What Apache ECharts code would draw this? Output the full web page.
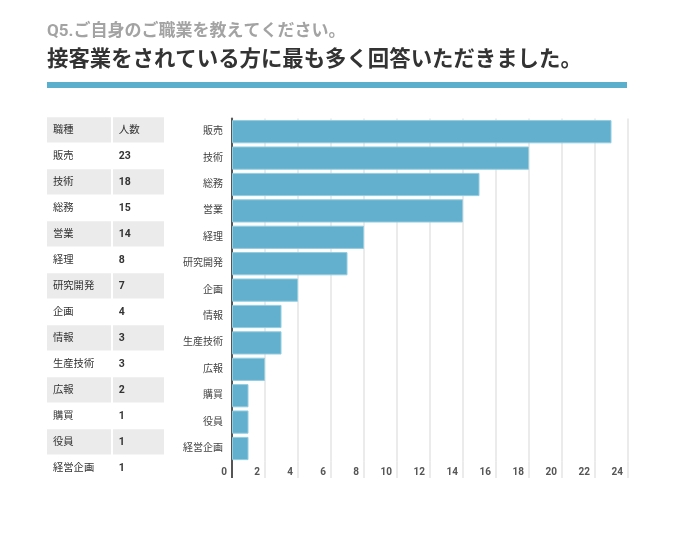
<!DOCTYPE html>
<html><head><meta charset="utf-8">
<script src="https://cdn.jsdelivr.net/npm/echarts@6/dist/echarts.min.js"></script>
<style>html,body{margin:0;padding:0;background:#fff}#c{width:674px;height:535px}</style>
</head><body><div id="c"></div>
<script>
const categories = ['販売','技術','総務','営業','経理','研究開発','企画','情報','生産技術','広報','購買','役員','経営企画'];
const values = [23,18,15,14,8,7,4,3,3,2,1,1,1];
const tableHeader = ['職種','人数'];
const titleText = 'Q5.ご自身のご職業を教えてください。';
const subtitleText = '接客業をされている方に最も多く回答いただきました。';
const xTicks = [0,2,4,6,8,10,12,14,16,18,20,22,24];

const FONT = "Roboto, 'Noto Sans CJK JP', sans-serif";
const W = 674, H = 535;
const gridTop = 118.5, gridBottom = 73.3, gridLeft = 232, gridRight = 46;
const rowH = 26, tableTop = 117.3;
const extendTo = 478;

const chart = echarts.init(document.getElementById('c'));

const els = [];
els.push({type:'text', x:47, y:31.5, style:{text:titleText, fontSize:17, fontWeight:'bold', fill:'#a3a3a3', fontFamily:FONT, verticalAlign:'middle'}});
els.push({type:'text', x:47, y:61, style:{text:subtitleText, fontSize:21.4, fontWeight:'bold', fill:'#333333', fontFamily:FONT, verticalAlign:'middle'}});
els.push({type:'rect', shape:{x:47, y:82, width:580, height:6}, style:{fill:'#5aafcc'}});

const rows = [tableHeader].concat(categories.map((c,i)=>[c, String(values[i])]));
rows.forEach((r,i)=>{
  const y = tableTop + i*rowH;
  if (i % 2 === 0) {
    els.push({type:'rect', shape:{x:47, y:y, width:64, height:rowH-0.8}, style:{fill:'#ebebeb'}});
    els.push({type:'rect', shape:{x:113, y:y, width:51, height:rowH-0.8}, style:{fill:'#ebebeb'}});
  }
  els.push({type:'text', x:53, y:y+rowH/2, style:{text:r[0], fontSize:10.3, fill:'#333', fontFamily:FONT, verticalAlign:'middle'}});
  els.push({type:'text', x:118.7, y:y+rowH/2, style:{text:r[1], fontSize:10.5, fill:'#333', fontFamily:FONT, verticalAlign:'middle', fontWeight: i===0 ? 'normal' : 'bold'}});
});

const option = {
  animation: false,
  backgroundColor: '#fff',
  grid: {left: gridLeft, right: gridRight, top: gridTop, bottom: gridBottom, containLabel: false},
  xAxis: {
    type: 'value', min: 0, max: 24, interval: 2,
    axisLine: {show: false}, axisTick: {show: false},
    splitLine: {show: true, lineStyle: {color: '#e4e4e4', width: 1.5}},
    axisLabel: {align: 'right', padding: [0, 5, 0, 0], margin: 6, fontSize: 10, color: '#555', fontWeight: 'bold', fontFamily: FONT,
      formatter: v => xTicks.indexOf(v) >= 0 ? String(v) : ''}
  },
  yAxis: {
    type: 'category', inverse: true, data: categories,
    axisLine: {show: true, lineStyle: {color: '#555', width: 2}},
    axisTick: {show: false},
    axisLabel: {fontSize: 10, color: '#444', margin: 9, fontFamily: FONT}
  },
  series: [{
    type: 'bar', data: values, barCategoryGap: '12%',
    itemStyle: {color: '#62b0cd', borderColor: '#93cde0', borderWidth: 1},
    z: 3
  }],
  graphic: els
};
chart.setOption(option);

// extend gridlines and axis line below the plot like the reference
const ext = [];
const y0 = H - gridBottom;
xTicks.forEach(v => {
  const x = chart.convertToPixel({xAxisIndex: 0}, v);
  ext.push({type:'line', shape:{x1:x, y1:y0, x2:x, y2:extendTo},
    style: v === 0 ? {stroke:'#555', lineWidth:2} : {stroke:'#e4e4e4', lineWidth:1.5}, z: v===0 ? 10 : 0});
});
chart.setOption({graphic: els.concat(ext)});
</script>
</body></html>
